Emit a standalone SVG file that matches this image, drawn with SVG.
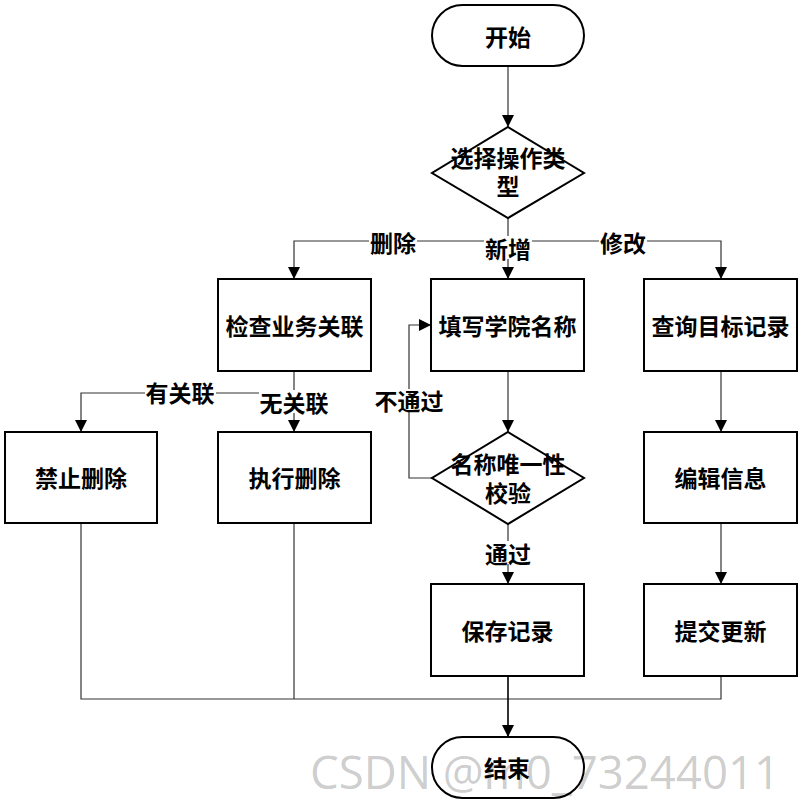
<svg xmlns="http://www.w3.org/2000/svg" width="801" height="802" viewBox="0 0 801 802">
<defs>
<marker id="arr" viewBox="0 0 12 12" refX="12" refY="6" markerWidth="12" markerHeight="12" markerUnits="userSpaceOnUse" orient="auto">
<path d="M0,0 L12,6 L0,12 z" fill="#000"/>
</marker>
</defs>
<style>
.node{fill:#fff;stroke:#000;stroke-width:2}
.t{font-family:"Noto Sans CJK SC","Liberation Sans",sans-serif;font-size:23px;font-weight:bold;fill:#000;text-anchor:middle;dominant-baseline:central}
.c{fill:none;stroke:#333;stroke-width:1.2}
.ca{fill:none;stroke:#333;stroke-width:1.2;marker-end:url(#arr)}
.lb{fill:#fff}
</style>
<rect width="801" height="802" fill="#fff"/>
<g id="connectors">
<path class="ca" d="M508,66 V127"/>
<path class="ca" d="M508,218 V279"/>
<path class="ca" d="M508,241 H294 V279"/>
<path class="ca" d="M508,241 H721 V279"/>
<path class="ca" d="M294,371 V432"/>
<path class="ca" d="M294,393 H81 V432"/>
<path class="ca" d="M508,371 V432"/>
<path class="ca" d="M432,478 H409 V325 H431"/>
<path class="ca" d="M508,524 V584"/>
<path class="ca" d="M721,371 V432"/>
<path class="ca" d="M721,523 V584"/>
<path class="c" d="M81,523 V699 H721 V676"/>
<path class="c" d="M294,523 V699"/>
<path class="ca" d="M508,676 V737" style="stroke:#000;stroke-width:1.6"/>
<g id="edge-labels">
<rect class="lb" x="369" y="230" width="48" height="23"/><text class="t" x="393" y="242">删除</text>
<rect class="lb" x="484" y="236" width="48" height="23"/><text class="t" x="508" y="248">新增</text>
<rect class="lb" x="599" y="231" width="48" height="23"/><text class="t" x="623" y="242">修改</text>
<rect class="lb" x="145" y="381" width="71" height="23"/><text class="t" x="180" y="392">有关联</text>
<rect class="lb" x="259" y="390" width="71" height="23"/><text class="t" x="294" y="402">无关联</text>
<rect class="lb" x="374" y="389" width="71" height="23"/><text class="t" x="409" y="400">不通过</text>
<rect class="lb" x="484" y="541" width="48" height="23"/><text class="t" x="508" y="553">通过</text>
</g>
</g>
<g id="start"><rect class="node" x="432" y="5" width="152" height="61" rx="30.5"/><text class="t" x="508" y="36">开始</text></g>
<g id="choose"><polygon class="node" points="508,127 584,173 508,218 432,173"/><text class="t" x="508" y="157">选择操作类</text><text class="t" x="508" y="185">型</text></g>
<g id="check"><rect class="node" x="218" y="279" width="153" height="92"/><text class="t" x="294.5" y="325">检查业务关联</text></g>
<g id="fill"><rect class="node" x="431" y="279" width="153" height="92"/><text class="t" x="507.5" y="325">填写学院名称</text></g>
<g id="query"><rect class="node" x="644" y="279" width="153" height="92"/><text class="t" x="720.5" y="325">查询目标记录</text></g>
<g id="forbid"><rect class="node" x="5" y="432" width="152" height="91"/><text class="t" x="81" y="477">禁止删除</text></g>
<g id="exec"><rect class="node" x="218" y="432" width="153" height="91"/><text class="t" x="294.5" y="477">执行删除</text></g>
<g id="verify"><polygon class="node" points="508,432 584,478 508,524 432,478"/><text class="t" x="508" y="463">名称唯一性</text><text class="t" x="508" y="492">校验</text></g>
<g id="edit"><rect class="node" x="644" y="432" width="153" height="91"/><text class="t" x="720.5" y="477">编辑信息</text></g>
<g id="save"><rect class="node" x="431" y="584" width="153" height="92"/><text class="t" x="507.5" y="630">保存记录</text></g>
<g id="submit"><rect class="node" x="644" y="584" width="153" height="92"/><text class="t" x="720.5" y="630">提交更新</text></g>
<g id="end"><rect class="node" x="432" y="737" width="152" height="61" rx="30.5"/><text class="t" x="507" y="767">结束</text></g>
<text x="310" y="789" font-family="'Open Sans','Noto Sans',sans-serif" font-size="46" fill="#000" fill-opacity="0.21" textLength="470" lengthAdjust="spacingAndGlyphs">CSDN @m0_73244011</text>
</svg>
